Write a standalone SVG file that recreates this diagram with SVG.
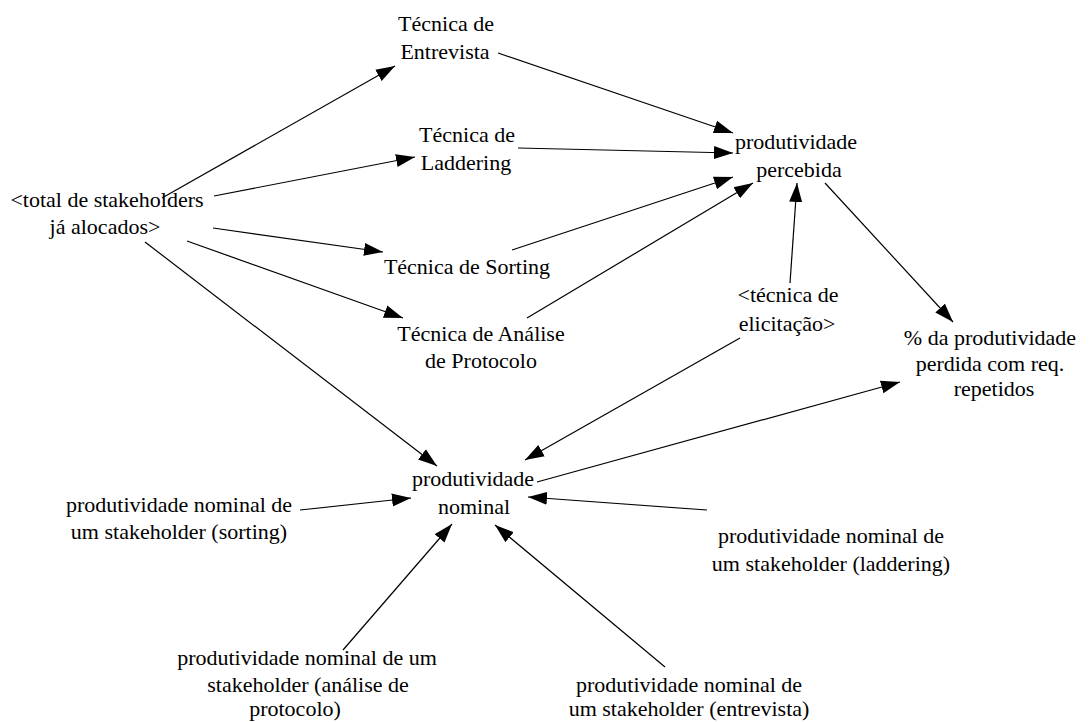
<svg xmlns="http://www.w3.org/2000/svg" width="1089" height="722" viewBox="0 0 1089 722">
  <style>
    text { font-size: 22px; fill: #000; text-anchor: middle; }
    .link { stroke: #000; stroke-width: 1.2; fill: none; marker-end: url(#head); }
  </style>
  <defs>
    <marker id="head" markerUnits="userSpaceOnUse" markerWidth="20" markerHeight="14" refX="19" refY="7" orient="auto">
      <path d="M0,0.5 L19,7 L0,13.5 z" fill="#000"/>
    </marker>
  </defs>
  <rect width="1089" height="722" fill="#fff"/>

  <!-- influence links -->
  <g id="connectors">
    <line class="link" x1="162" y1="198" x2="395" y2="66"/>
    <line class="link" x1="214" y1="196" x2="415" y2="157"/>
    <line class="link" x1="213" y1="228" x2="383" y2="252"/>
    <line class="link" x1="187" y1="241" x2="403" y2="318"/>
    <line class="link" x1="145" y1="242" x2="437" y2="466"/>
    <line class="link" x1="498" y1="53" x2="733" y2="133"/>
    <line class="link" x1="518" y1="148" x2="733" y2="153"/>
    <line class="link" x1="512" y1="250" x2="733" y2="177"/>
    <line class="link" x1="527" y1="318" x2="753" y2="183"/>
    <line class="link" x1="790" y1="283" x2="797" y2="183"/>
    <line class="link" x1="825" y1="183" x2="953" y2="322"/>
    <line class="link" x1="740" y1="338" x2="525" y2="460"/>
    <line class="link" x1="537" y1="482" x2="900" y2="382"/>
    <line class="link" x1="707" y1="510" x2="528" y2="497"/>
    <line class="link" x1="300" y1="510" x2="411" y2="498"/>
    <line class="link" x1="343" y1="650" x2="452" y2="524"/>
    <line class="link" x1="665" y1="667" x2="495" y2="525"/>
  </g>

  <g id="tecnica-entrevista" font-family="Liberation Serif">
    <text x="446" y="31">Técnica de</text>
    <text x="445" y="59">Entrevista</text>
  </g>
  <g id="tecnica-laddering" font-family="Times New Roman">
    <text x="467" y="142">Técnica de</text>
    <text x="466" y="170">Laddering</text>
  </g>
  <g id="total-stakeholders" font-family="Times">
    <text x="107" y="207">&lt;total de stakeholders</text>
    <text x="105" y="234">já alocados&gt;</text>
  </g>
  <g id="tecnica-sorting" font-family="serif">
    <text x="467" y="274">Técnica de Sorting</text>
  </g>
  <g id="tecnica-analise" font-family="Times New Roman">
    <text x="481" y="341">Técnica de Análise</text>
    <text x="481" y="368">de Protocolo</text>
  </g>
  <g id="produtividade-percebida" font-family="serif">
    <text x="796" y="149">produtividade</text>
    <text x="799" y="177">percebida</text>
  </g>
  <g id="tecnica-elicitacao" font-family="Liberation Serif">
    <text x="788" y="302">&lt;técnica de</text>
    <text x="787" y="331">elicitação&gt;</text>
  </g>
  <g id="produtividade-perdida" font-family="Times">
    <text x="990" y="345">% da produtividade</text>
    <text x="990" y="371">perdida com req.</text>
    <text x="994" y="396">repetidos</text>
  </g>
  <g id="produtividade-nominal" font-family="'Liberation Serif', serif">
    <text x="473" y="486">produtividade</text>
    <text x="474" y="514">nominal</text>
  </g>
  <g id="nominal-sorting" font-family="Times New Roman">
    <text x="179" y="512">produtividade nominal de</text>
    <text x="179" y="539">um stakeholder (sorting)</text>
  </g>
  <g id="nominal-laddering" font-family="Liberation Serif">
    <text x="831" y="543">produtividade nominal de</text>
    <text x="831" y="571">um stakeholder (laddering)</text>
  </g>
  <g id="nominal-analise" font-family="Times">
    <text x="307" y="665">produtividade nominal de um</text>
    <text x="308" y="692">stakeholder (análise de</text>
    <text x="295" y="716">protocolo)</text>
  </g>
  <g id="nominal-entrevista" font-family="serif">
    <text x="689" y="692">produtividade nominal de</text>
    <text x="689" y="716">um stakeholder (entrevista)</text>
  </g>
</svg>
